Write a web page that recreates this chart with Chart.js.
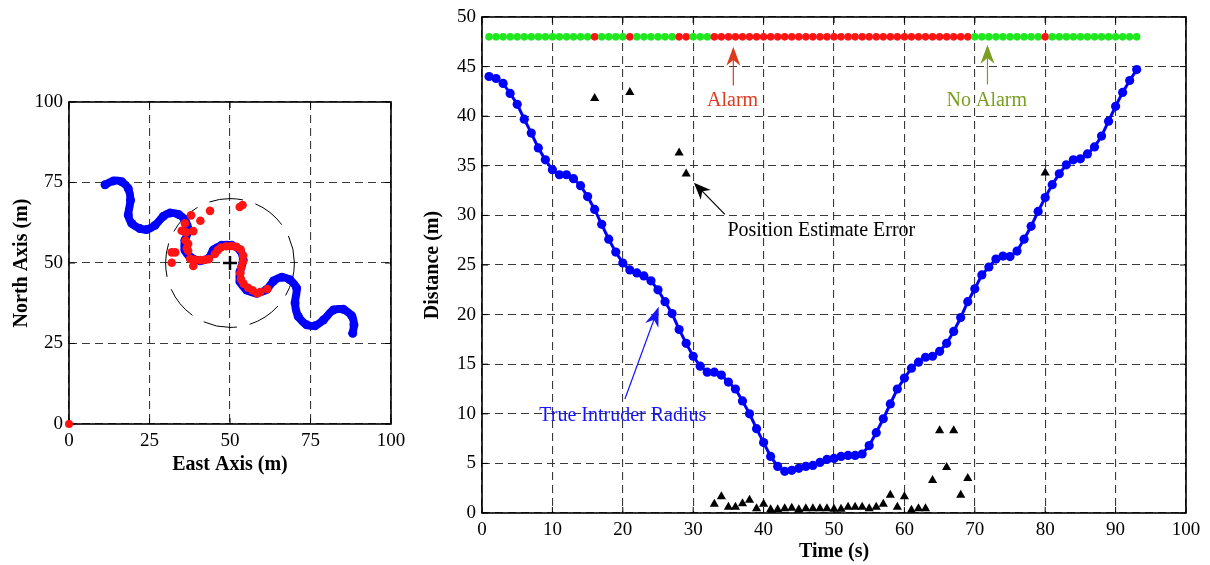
<!DOCTYPE html>
<html>
<head>
<meta charset="utf-8">
<script src="https://cdn.jsdelivr.net/npm/chart.js@4.4.1/dist/chart.umd.min.js"></script>
<style>
    body { margin: 0; background: #fff; width: 1210px; height: 565px; overflow: hidden; }
    .panel { position: absolute; top: 0; height: 565px; }
    #map-panel { left: 0; width: 410px; }
    #radius-panel { left: 420px; width: 790px; }
</style>
</head>
<body>
<div class="panel" id="map-panel"><canvas id="chart-map" width="410" height="565"></canvas></div>
<div class="panel" id="radius-panel"><canvas id="chart-radius" width="790" height="565"></canvas></div>
<script>
// ---- left panel: positions (m) ----
const trackEast = [11.2, 13.8, 16.4, 18.4, 19.1, 18.4, 19.5, 22.0, 24.1, 26.7, 29.3, 31.4, 34.0, 36.0, 37.1, 36.0, 36.0, 37.6, 40.7, 43.3, 44.8, 47.4, 50.5, 53.1, 54.1, 53.1, 53.1, 55.2, 58.3, 61.4, 63.5, 66.1, 68.6, 70.7, 70.2, 71.2, 73.8, 76.4, 79.0, 82.1, 85.2, 87.8, 88.5, 88.1];
const trackNorth = [74.3, 75.5, 75.2, 73.1, 69.5, 64.9, 62.3, 60.7, 60.4, 61.7, 64.5, 65.5, 65.1, 63.3, 60.2, 57.1, 54.0, 51.9, 50.7, 51.4, 54.0, 55.5, 55.5, 54.0, 50.9, 47.3, 44.2, 41.6, 40.6, 41.8, 44.4, 45.6, 44.8, 42.2, 37.6, 33.4, 30.8, 30.5, 32.3, 35.4, 35.6, 33.6, 30.8, 28.2];
const estimateEast = [43.8, 53.0, 53.9, 37.9, 40.8, 36.0, 35.0, 38.6, 36.2, 36.6, 37.0, 31.9, 33.0, 31.9, 37.6, 38.6, 40.8, 42.2, 43.4, 45.3, 46.2, 47.2, 48.9, 50.5, 52.0, 53.3, 54.1, 54.0, 53.5, 53.2, 53.4, 54.2, 55.6, 57.0, 58.4, 59.4, 61.6, 37.0, 39.0, 36.3];
const estimateNorth = [66.2, 67.4, 68.0, 64.8, 63.1, 62.3, 60.0, 59.9, 57.0, 54.6, 53.8, 53.3, 53.3, 50.1, 51.3, 49.1, 50.9, 51.0, 51.2, 52.8, 54.0, 54.8, 55.2, 55.3, 55.0, 54.2, 52.3, 50.4, 48.6, 46.8, 45.0, 43.6, 42.3, 41.5, 40.6, 41.0, 41.9, 56.0, 51.0, 59.5];
const sensorOrigin = [0, 0];
const zoneCenter = [50, 50];
const zoneRadius = 20;
const mapTicks = [0, 25, 50, 75, 100];

// ---- right panel: distance vs time ----
const timeSteps = [1, 2, 3, 4, 5, 6, 7, 8, 9, 10, 11, 12, 13, 14, 15, 16, 17, 18, 19, 20, 21, 22, 23, 24, 25, 26, 27, 28, 29, 30, 31, 32, 33, 34, 35, 36, 37, 38, 39, 40, 41, 42, 43, 44, 45, 46, 47, 48, 49, 50, 51, 52, 53, 54, 55, 56, 57, 58, 59, 60, 61, 62, 63, 64, 65, 66, 67, 68, 69, 70, 71, 72, 73, 74, 75, 76, 77, 78, 79, 80, 81, 82, 83, 84, 85, 86, 87, 88, 89, 90, 91, 92, 93];
const intruderRadius = [44.0, 43.8, 43.3, 42.3, 41.2, 39.7, 38.3, 36.8, 35.6, 34.6, 34.1, 34.1, 33.7, 33.0, 31.9, 30.6, 29.1, 27.6, 26.3, 25.2, 24.5, 24.2, 23.9, 23.4, 22.5, 21.3, 20.1, 18.5, 17.1, 15.8, 14.8, 14.2, 14.2, 13.9, 13.2, 12.5, 11.3, 10.0, 8.5, 7.1, 5.7, 4.7, 4.2, 4.3, 4.5, 4.7, 4.8, 5.1, 5.4, 5.5, 5.7, 5.8, 5.8, 5.95, 6.8, 8.1, 9.5, 11.0, 12.5, 13.6, 14.6, 15.2, 15.7, 15.8, 16.3, 17.1, 18.3, 19.7, 21.3, 22.6, 24.0, 24.8, 25.6, 25.9, 25.85, 26.4, 27.6, 28.9, 30.4, 31.8, 33.1, 34.2, 35.1, 35.6, 35.7, 36.2, 36.9, 38.0, 39.5, 41.0, 42.4, 43.6, 44.7];
const alarmFlags = [0, 0, 0, 0, 0, 0, 0, 0, 0, 0, 0, 0, 0, 0, 0, 1, 0, 0, 0, 0, 1, 0, 0, 0, 0, 0, 0, 1, 1, 0, 0, 0, 1, 1, 1, 1, 1, 1, 1, 1, 1, 1, 1, 1, 1, 1, 1, 1, 1, 1, 1, 1, 1, 1, 1, 1, 1, 1, 1, 1, 1, 1, 1, 1, 1, 1, 1, 1, 1, 0, 0, 0, 0, 0, 0, 0, 0, 0, 0, 1, 0, 0, 0, 0, 0, 0, 0, 0, 0, 0, 0, 0, 0];
const alarmRow = 48;
const errorTimes = [16, 21, 28, 29, 33, 34, 35, 36, 37, 38, 39, 40, 41, 42, 43, 44, 45, 46, 47, 48, 49, 50, 51, 52, 53, 54, 55, 56, 57, 58, 59, 60, 61, 62, 63, 64, 65, 66, 67, 68, 69, 80];
const errorValues = [41.8, 42.4, 36.3, 34.2, 0.9, 1.65, 0.6, 0.6, 0.95, 1.3, 0.45, 0.9, 0.35, 0.35, 0.45, 0.5, 0.35, 0.45, 0.45, 0.45, 0.45, 0.4, 0.4, 0.6, 0.6, 0.6, 0.45, 0.6, 0.9, 1.8, 0.6, 1.65, 0.3, 0.45, 0.45, 3.3, 8.3, 4.6, 8.3, 1.8, 3.5, 34.3];
const timeTicks = [0, 10, 20, 30, 40, 50, 60, 70, 80, 90, 100];
const distanceTicks = [0, 5, 10, 15, 20, 25, 30, 35, 40, 45, 50];

const SERIF = "'Liberation Serif', 'Times New Roman', serif";
const TICK_FONT = { family: SERIF, size: 19 };
const TITLE_FONT = { family: SERIF, size: 20, weight: 'bold' };
const BLUE = '#0000ff';
const RED = '#ff1414';
const GREEN = '#1fe81f';

function pairs(xs, ys) {
    return xs.map((x, i) => ({ x: x, y: ys[i] }));
}

function buildAxis(min, max, ticks, title, size, isX) {
    return {
        type: 'linear',
        min: min,
        max: max,
        afterBuildTicks: axis => { axis.ticks = ticks.map(v => ({ value: v })); },
        afterFit: axis => {
            if (isX) axis.height = size; else axis.width = size;
            axis.paddingLeft = 0; axis.paddingRight = 0;
            axis.paddingTop = 0; axis.paddingBottom = 0;
        },
        grid: { color: '#3a3a3a', lineWidth: 1.1, drawTicks: false },
        border: { display: false, dash: [8, 5] },
        ticks: { color: '#000', font: TICK_FONT, padding: 6 },
        title: { display: true, text: title, color: '#000', font: TITLE_FONT, padding: 0 }
    };
}

// box around plot area with small inward ticks, like the original figure
const framePlugin = {
    id: 'frame',
    beforeDatasetsDraw(chart) {
        const { ctx, chartArea: a, scales } = chart;
        ctx.save();
        ctx.strokeStyle = '#000';
        ctx.lineWidth = 1.6;
        ctx.strokeRect(a.left, a.top, a.right - a.left, a.bottom - a.top);
        ctx.lineWidth = 1;
        ctx.beginPath();
        scales.x.ticks.forEach(t => {
            const px = scales.x.getPixelForValue(t.value);
            ctx.moveTo(px, a.bottom); ctx.lineTo(px, a.bottom - 6);
            ctx.moveTo(px, a.top); ctx.lineTo(px, a.top + 6);
        });
        scales.y.ticks.forEach(t => {
            const py = scales.y.getPixelForValue(t.value);
            ctx.moveTo(a.left, py); ctx.lineTo(a.left + 6, py);
            ctx.moveTo(a.right, py); ctx.lineTo(a.right - 6, py);
        });
        ctx.stroke();
        ctx.restore();
    }
};

const zonePlugin = {
    id: 'zone',
    beforeDatasetsDraw(chart) {
        const { ctx, scales } = chart;
        const cx = scales.x.getPixelForValue(zoneCenter[0]);
        const cy = scales.y.getPixelForValue(zoneCenter[1]);
        const r = scales.x.getPixelForValue(zoneCenter[0] + zoneRadius) - cx;
        ctx.save();
        ctx.strokeStyle = '#000';
        ctx.lineWidth = 1;
        ctx.setLineDash([34, 13]);
        ctx.beginPath();
        ctx.arc(cx, cy, r, 0, Math.PI * 2);
        ctx.stroke();
        ctx.restore();
    }
};

function drawArrow(ctx, x0, y0, x1, y1, color, headLen, headHalf) {
    const ang = Math.atan2(y1 - y0, x1 - x0);
    const cos = Math.cos(ang), sin = Math.sin(ang);
    const bx = x1 - headLen * cos, by = y1 - headLen * sin;
    const nx = x1 - headLen * 0.7 * cos, ny = y1 - headLen * 0.7 * sin;
    ctx.strokeStyle = color;
    ctx.fillStyle = color;
    ctx.lineWidth = 1.2;
    ctx.beginPath();
    ctx.moveTo(x0, y0);
    ctx.lineTo(nx, ny);
    ctx.stroke();
    ctx.beginPath();
    ctx.moveTo(x1, y1);
    ctx.lineTo(bx - headHalf * sin, by + headHalf * cos);
    ctx.lineTo(nx, ny);
    ctx.lineTo(bx + headHalf * sin, by - headHalf * cos);
    ctx.closePath();
    ctx.fill();
}

const notesPlugin = {
    id: 'notes',
    afterDatasetsDraw(chart) {
        const { ctx, scales } = chart;
        const px = v => scales.x.getPixelForValue(v);
        const py = v => scales.y.getPixelForValue(v);
        const notes = [
            { text: 'Alarm', color: '#dd3b1e', label: [35.6, 41.6], tail: [35.7, 43.1], tip: [35.7, 47.0], head: 19 },
            { text: 'No Alarm', color: '#7a9e22', label: [71.7, 41.6], tail: [71.8, 43.2], tip: [71.8, 47.2], head: 19 },
            { text: 'Position Estimate Error', color: '#000', label: [48.2, 28.5], tail: [34.5, 30.1], tip: [30.1, 33.3], head: 17 },
            { text: 'True Intruder Radius', color: '#1414ff', label: [20.0, 9.8], tail: [20.3, 11.5], tip: [25.1, 20.8], head: 20 }
        ];
        ctx.save();
        notes.forEach(n => {
            drawArrow(ctx, px(n.tail[0]), py(n.tail[1]), px(n.tip[0]), py(n.tip[1]), n.color, n.head, 7);
            ctx.fillStyle = n.color;
            ctx.font = `20px ${SERIF}`;
            ctx.textAlign = 'center';
            ctx.textBaseline = 'middle';
            ctx.fillText(n.text, px(n.label[0]), py(n.label[1]));
        });
        ctx.restore();
    }
};

const baseOptions = {
    responsive: false,
    animation: false,
    devicePixelRatio: 1,
    events: [],
    plugins: { legend: { display: false }, tooltip: { enabled: false } }
};

new Chart(document.getElementById('chart-map'), {
    type: 'scatter',
    data: {
        datasets: [
            {
                label: 'Zone center',
                data: [{ x: zoneCenter[0], y: zoneCenter[1] }],
                pointStyle: 'cross',
                pointRadius: 7,
                borderColor: '#000',
                pointBorderWidth: 2.5,
                order: 0
            },
            {
                label: 'Estimated position',
                data: pairs(estimateEast, estimateNorth),
                pointRadius: 4.3,
                pointBorderWidth: 0,
                backgroundColor: RED,
                order: 1
            },
            {
                label: 'Sensor',
                data: [{ x: sensorOrigin[0], y: sensorOrigin[1] }],
                pointRadius: 4,
                pointBorderWidth: 0,
                backgroundColor: RED,
                clip: false,
                order: 2
            },
            {
                label: 'True position',
                data: pairs(trackEast, trackNorth),
                showLine: true,
                tension: 0.25,
                borderColor: BLUE,
                borderWidth: 8,
                borderCapStyle: 'round',
                borderJoinStyle: 'round',
                pointRadius: 4.5,
                pointBorderWidth: 0,
                backgroundColor: BLUE,
                order: 3
            }
        ]
    },
    options: {
        ...baseOptions,
        layout: { padding: { left: 10, top: 102, right: 19, bottom: 88 } },
        scales: {
            x: buildAxis(0, 100, mapTicks, 'East Axis (m)', 53, true),
            y: buildAxis(0, 100, mapTicks, 'North Axis (m)', 59, false)
        }
    },
    plugins: [framePlugin, zonePlugin]
});

new Chart(document.getElementById('chart-radius'), {
    type: 'scatter',
    data: {
        datasets: [
            {
                label: 'Alarm state',
                data: timeSteps.map(t => ({ x: t, y: alarmRow })),
                pointRadius: 3.8,
                pointBorderWidth: 0,
                backgroundColor: ctx => alarmFlags[ctx.dataIndex] ? RED : GREEN,
                order: 0
            },
            {
                label: 'Position Estimate Error',
                data: pairs(errorTimes, errorValues),
                pointStyle: 'triangle',
                pointRadius: 5.3,
                pointBorderWidth: 0,
                backgroundColor: '#000',
                clip: false,
                order: 1
            },
            {
                label: 'True Intruder Radius',
                data: pairs(timeSteps, intruderRadius),
                showLine: true,
                borderColor: BLUE,
                borderWidth: 3,
                pointRadius: 4.6,
                pointBorderWidth: 0,
                backgroundColor: BLUE,
                order: 2
            }
        ]
    },
    options: {
        ...baseOptions,
        layout: { padding: { left: 1, top: 17, right: 24, bottom: 1 } },
        scales: {
            x: buildAxis(0, 100, timeTicks, 'Time (s)', 51, true),
            y: buildAxis(0, 50, distanceTicks, 'Distance (m)', 61, false)
        }
    },
    plugins: [framePlugin, notesPlugin]
});
</script>
</body>
</html>
